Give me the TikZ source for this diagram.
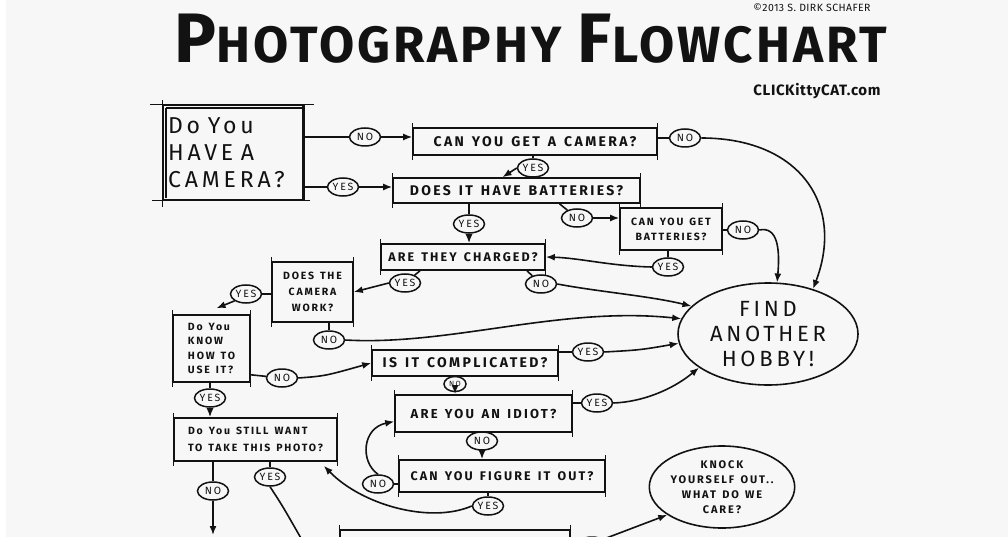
\documentclass[tikz,border=0pt]{standalone}
\usepackage{fontspec}
\setmainfont{Fira Sans}
\newfontfamily\hand{Fira Sans}[LetterSpace=17,WordSpace=1.4]
\newfontfamily\titlef{Fira Sans}[LetterSpace=6]
\newfontfamily\sitef{Fira Sans}[LetterSpace=4]
\usetikzlibrary{arrows.meta,shapes.geometric}
\definecolor{bg}{HTML}{F7F7F7}
\definecolor{ink}{HTML}{121212}
\tikzset{
  q/.style={rectangle, draw=ink, line width=1.6pt, inner sep=0pt, align=center,
    text=ink, font=\hand\bfseries\fontsize{14}{16}\selectfont},
  bub/.style={ellipse, draw=ink, line width=1.6pt, inner sep=0pt, align=center,
    text=ink},
  lab/.style={ellipse, draw=ink, line width=1.5pt, inner sep=0.5pt,
    minimum width=31pt, minimum height=18pt, text=ink,
    font=\hand\fontsize{10.5}{10}\selectfont},
  ln/.style={draw=ink, line width=1.6pt},
  ar/.style={ln, -{Latex[length=9pt,width=7pt]}},
  tick/.style={draw=ink, line width=1.3pt},
}
\begin{document}
\begin{tikzpicture}[x=1pt,y=-1pt]
\fill[bg] (0,0) rectangle (1008,537);
\fill[white] (0,0) rectangle (6,537);
\useasboundingbox (0,0) rectangle (1008,537);

% title and credits
\node[text=ink, inner sep=0pt] (title) at (531,39)
  {\titlef\bfseries\fontsize{51}{51}\selectfont{\fontsize{70}{70}\selectfont P}HOTOGRAPHY\hspace{16pt}{\fontsize{70}{70}\selectfont F}LOWCHART};
\node[text=ink, inner sep=0pt, font=\sitef\fontsize{10.5}{11}\selectfont] (copy) at (812,8) {©2013 S. DIRK SCHAFER};
\node[text=ink, inner sep=0pt, font=\sitef\bfseries\fontsize{15}{16}\selectfont] (site) at (817,91) {CLICKittyCAT.com};

% question boxes
\node[q, minimum width=140pt, minimum height=95pt, text width=130pt, align=left,
  font=\hand\fontsize{23}{27}\selectfont] (q1) at (233,152.5) {Do You\\HAVE A\\CAMERA?};
\node[q, minimum width=244pt, minimum height=27pt] (q2) at (535,141.5) {CAN YOU GET A CAMERA?};
\node[q, minimum width=247pt, minimum height=25pt] (q3) at (516.5,190.5) {DOES IT HAVE BATTERIES?};
\node[q, minimum width=164pt, minimum height=26pt, font=\hand\bfseries\fontsize{12.5}{14}\selectfont] (q4) at (463,257) {ARE THEY CHARGED?};
\node[q, minimum width=102pt, minimum height=42pt, font=\hand\bfseries\fontsize{10.5}{15}\selectfont] (q5) at (671,229) {CAN YOU GET\\BATTERIES?};
\node[q, minimum width=81pt, minimum height=60pt, font=\hand\bfseries\fontsize{10.5}{16}\selectfont] (q6) at (312.5,292) {DOES THE\\CAMERA\\WORK?};
\node[q, minimum width=77pt, minimum height=67pt, align=left, font=\hand\bfseries\fontsize{10.5}{14.5}\selectfont] (q7) at (211.5,348.5) {Do You\\KNOW\\HOW TO\\USE IT?};
\node[q, minimum width=186pt, minimum height=26pt] (q8) at (465,363) {IS IT COMPLICATED?};
\node[q, minimum width=177pt, minimum height=37pt, font=\hand\bfseries\fontsize{13}{14}\selectfont] (q9) at (483.5,413.5) {ARE YOU AN IDIOT?};
\node[q, minimum width=206pt, minimum height=32pt, font=\hand\bfseries\fontsize{12.5}{14}\selectfont] (q10) at (502,476) {CAN YOU FIGURE IT OUT?};
\node[q, minimum width=163pt, minimum height=43pt, align=left, font=\hand\bfseries\fontsize{10.5}{17}\selectfont] (q11) at (255.5,439.5) {Do You STILL WANT\\TO TAKE THIS PHOTO?};
\node[q, minimum width=230pt, minimum height=40pt] (q12) at (455,550) {};

% outcome ellipses
\node[bub, minimum width=180pt, minimum height=102pt, font=\hand\fontsize{22}{25}\selectfont] (f) at (768,334) {FIND\\ANOTHER\\HOBBY!};
\node[bub, minimum width=144pt, minimum height=82pt, font=\hand\bfseries\fontsize{11}{15}\selectfont] (k) at (722,487) {KNOCK\\YOURSELF OUT..\\WHAT DO WE\\CARE?};

% double frame / overshooting corners of first box
\draw[ln] ([xshift=4pt,yshift=-4pt]q1.north west) -- ([xshift=4pt,yshift=3pt]q1.south west);
\draw[ln] ([xshift=4pt,yshift=-4pt]q1.north west) -- ([xshift=-2pt,yshift=-4pt]q1.north east);
\draw[tick] ([xshift=-12pt]q1.north west) -- ([xshift=10pt]q1.north east);
\draw[tick] ([xshift=-10pt]q1.south west) -- ([xshift=6pt]q1.south east);
\draw[tick] ([yshift=4pt]q1.north west) -- ([yshift=-6pt]q1.south west);
\draw[line width=2.4pt, draw=ink] (q1.north east) -- (q1.south east);
\foreach \n in {q2,q3,q4,q5,q6,q7,q8,q9,q10,q11,q12}{
  \draw[tick] ([yshift=4pt]\n.north west) -- ([yshift=-4pt]\n.south west);
  \draw[tick] ([yshift=4pt]\n.north east) -- ([yshift=-4pt]\n.south east);
}

% answer labels
\node[lab] (no1) at (365,137) {NO};
\node[lab] (yes1) at (343,187) {YES};
\node[lab] (no2) at (685,138) {NO};
\node[lab] (yes2) at (533,168) {YES};
\node[lab] (yes3) at (469,224) {YES};
\node[lab] (no3) at (577,218) {NO};
\node[lab] (no5) at (743,230) {NO};
\node[lab] (yes5) at (668,267) {YES};
\node[lab] (yes4) at (405,283) {YES};
\node[lab] (no4) at (541,284) {NO};
\node[lab] (yes6) at (246,294) {YES};
\node[lab] (no6) at (329,340) {NO};
\node[lab] (no7) at (282,378) {NO};
\node[lab] (yes7) at (210,398) {YES};
\node[lab] (yes8) at (588,352) {YES};
\node[lab, minimum width=22pt, minimum height=15pt, font=\hand\fontsize{7.5}{8}\selectfont] (no8) at (455,384) {NO};
\node[lab] (yes9) at (597,403) {YES};
\node[lab] (no9) at (482,441) {NO};
\node[lab] (no10) at (378,484) {NO};
\node[lab] (yes10) at (488,506) {YES};
\node[lab] (no11) at (213,491) {NO};
\node[lab] (yes11) at (270,477) {YES};
\node[lab] (o12) at (592,546) {};
\coordinate (e1) at (213,535);
\coordinate (e2) at (302,540);

% connectors
\draw[ln] (q1.east |- no1) -- (no1);
\draw[ar] (no1) -- (q2.west |- no1);
\draw[ln] (q1.east |- yes1) -- (yes1);
\draw[ar] (yes1) -- (q3.west |- yes1);
\draw[ln] (q2.east |- no2) -- (no2);
\draw[ar] (no2.east) .. controls (800,138) and (845,205) .. (f.45);
\draw[ln] (q2.south -| yes2) -- (yes2);
\draw[ar] (yes2.west) -- ([xshift=-14pt]q3.north);
\draw[ln] (q3.south -| yes3) -- (yes3);
\draw[ar] (yes3) -- (q4.north -| yes3);
\draw[ln] ([xshift=43pt]q3.south) -- (no3);
\draw[ar] (no3) -- (q5.west |- no3);
\draw[ln] (q5.east |- no5) -- (no5);
\draw[ar] (no5.east) .. controls (778,226) and (780,250) .. (f.80);
\draw[ln] (q5.south -| yes5) -- (yes5);
\draw[ar] (yes5.west) .. controls (610,266) and (580,258) .. (q4.east);
\draw[ln] ([xshift=-43pt]q4.south) -- (yes4);
\draw[ar] (yes4.west) -- (q6.east);
\draw[ln] ([xshift=64pt]q4.south) -- (no4);
\draw[ar] (no4.east) .. controls (600,292) and (650,296) .. (f.160);
\draw[ln] (q6.west |- yes6) -- (yes6);
\draw[ar] (yes6.south west) -- ([xshift=5pt,yshift=6pt]q7.north);
\draw[ln] (q6.south -| no6) -- (no6);
\draw[ar] (no6.east) .. controls (450,346) and (560,306) .. (f.170);
\draw[ln] ([yshift=8pt]q7.south east) -- (no7);
\draw[ar] (no7.east) .. controls (325,376) .. (q8.west);
\draw[ln] (q7.south -| yes7) -- (yes7);
\draw[ar] (yes7) -- (q11.north -| yes7);
\draw[ln] (q8.east |- yes8) -- (yes8);
\draw[ar] (yes8.east) .. controls (640,350) .. (f.186);
\draw[ln] (q8.south -| no8) -- (no8);
\draw[ar] (no8) -- (q9.north -| no8);
\draw[ln] (q9.east |- yes9) -- (yes9);
\draw[ar] (yes9.east) .. controls (642,402) and (672,390) .. (f.206);
\draw[ln] (q9.south -| no9) -- (no9);
\draw[ar] (no9) -- (q10.north -| no9);
\draw[ln] (q10.west |- no10) -- (no10);
\draw[ar] (no10.north) .. controls (360,462) and (362,428) .. ([yshift=-8pt]q9.west);
\draw[ln] (q10.south -| yes10) -- (yes10);
\draw[ar] (yes10.west) .. controls (430,524) and (362,505) .. ([xshift=-14pt,yshift=-4pt]q11.south east);
\draw[ln] (q11.south -| no11) -- (no11);
\draw[ar] (no11) -- (e1);
\draw[ln] (q11.south -| yes11) -- (yes11);
\draw[ln] (yes11.south) .. controls (282,505) .. (e2);
\draw[ln] (q12.east |- o12) -- (o12);
\draw[ar] (o12.north east) -- (k.207);
\end{tikzpicture}
\end{document}
